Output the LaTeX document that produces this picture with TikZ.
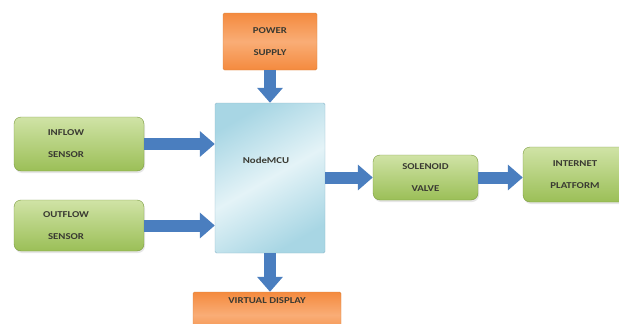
\documentclass[tikz,border=0pt]{standalone}
\usepackage{fontspec}
\newfontfamily\boxfont[FakeStretch=1.2]{Carlito}
\usetikzlibrary{arrows.meta,shadows}
\definecolor{grnA}{HTML}{D0E3A6}
\definecolor{grnB}{HTML}{9BBF57}
\definecolor{grnC}{HTML}{7A9A3E}
\definecolor{orgA}{HTML}{F48A3E}
\definecolor{orgB}{HTML}{F9AD76}
\definecolor{orgC}{HTML}{D9853F}
\definecolor{bluA}{HTML}{A8D6E4}
\definecolor{bluB}{HTML}{E4F3F7}
\definecolor{bluC}{HTML}{8FB8CB}
\definecolor{arw}{HTML}{4A7EBF}
\definecolor{txt}{HTML}{3A3A32}
\begin{document}
\begin{tikzpicture}[x=1pt,y=-1pt,
box/.style={align=center,text=txt,inner sep=0pt,font=\boxfont\bfseries\fontsize{9}{22}\selectfont},
grn/.style={box,rounded corners=7pt,draw=grnC,top color=grnA,bottom color=grnB,drop shadow={opacity=0.2,shadow xshift=1pt,shadow yshift=-2pt}},
org/.style={box,rounded corners=1.5pt,draw=orgC,top color=orgA,bottom color=orgA,middle color=orgB},
flow/.style={draw=arw,line width=12pt,-{Triangle[width=25pt,length=15pt]}}]
\useasboundingbox(0,0)rectangle(619,324);
\node[org,minimum width=94pt,minimum height=57pt](pow)at(270,41.5){POWER\\SUPPLY};
\node[box,draw=bluC,rounded corners=1.5pt,left color=bluA,right color=bluA,middle color=bluB,shading angle=30,minimum width=110pt,minimum height=150pt](mcu)at(270,178){};
\node[box,anchor=center](mculbl)at(266,160){NodeMCU};
\node[grn,minimum width=130pt,minimum height=54pt](in)at(79,144){INFLOW\hspace*{26pt}\\SENSOR\hspace*{26pt}};
\node[grn,minimum width=130pt,minimum height=51pt](out)at(79,225.5){OUTFLOW\hspace*{26pt}\\SENSOR\hspace*{26pt}};
\node[grn,minimum width=105pt,minimum height=45pt](sol)at(425.5,177.5){SOLENOID\\VALVE};
\node[grn,minimum width=104pt,minimum height=55pt](net)at(575,174.5){INTERNET\\PLATFORM};
\node[org,minimum width=148pt,minimum height=46pt](vd)at(267,315){VIRTUAL DISPLAY\\\strut};
\draw[flow](pow)--(mcu);
\draw[flow](in)--(in-|mcu.west);
\draw[flow](out)--(out-|mcu.west);
\draw[flow](mcu.east|-sol.west)--(sol);
\draw[flow](sol)--(sol-|net.west);
\draw[flow](mcu)--(mcu.south|-vd.north);
\end{tikzpicture}
\end{document}
